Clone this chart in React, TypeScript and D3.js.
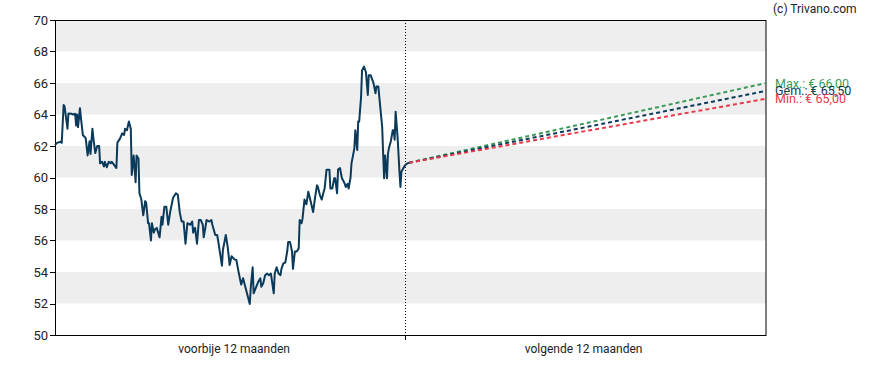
import React from "react";
import * as d3 from "d3";

const yTicks = [50, 52, 54, 56, 58, 60, 62, 64, 66, 68, 70];
const periodLabels = ["voorbije 12 maanden", "volgende 12 maanden"];
const domainDays = [-365, 376];

const pastDays = [
  -365, -363, -359, -358, -356, -355, -352, -351, -348, -346,
  -344, -343, -342, -341, -339, -338, -336, -333, -331, -329,
  -328, -326, -325, -323, -321, -319, -318, -316, -314, -313,
  -311, -309, -307, -306, -304, -301, -300, -297, -295, -293,
  -292, -290, -288, -286, -285, -283, -281, -280, -278, -277,
  -275, -273, -271, -270, -268, -267, -265, -264, -262, -261,
  -259, -256, -254, -253, -251, -249, -247, -245, -242, -239,
  -237, -235, -233, -231, -229, -227, -224, -222, -221, -219,
  -217, -215, -213, -211, -210, -207, -204, -202, -201, -198,
  -196, -195, -191, -190, -187, -185, -183, -181, -178, -176,
  -174, -171, -169, -166, -162, -161, -159, -158, -155, -153,
  -151,
  -150, -148, -146, -144, -142, -140, -137, -136, -134, -132,
  -130, -129, -127, -125, -123, -122, -120, -118, -117, -115,
  -113, -111, -110, -108, -107, -105, -103, -101, -99, -96,
  -94, -92, -91, -89, -87, -85, -84,
  -82, -79, -78, -76, -74, -73, -71, -70, -68, -66,
  -65, -63, -62, -60, -59, -57, -56, -53, -52, -50,
  -49, -48, -46, -45, -43, -41, -39, -38, -36, -33,
  -31, -30, -28, -27, -24, -23, -22, -21, -19, -18,
  -17, -15, -13, -12, -11, -10, -8, -6, -5, -4,
  -1, 1, 4,
];

const pastPrices = [
  62.06, 62.2, 62.27, 62.2, 64.6, 64.5, 63.1, 64.07, 64.05, 64.0,
  64.05, 63.3, 64.0, 63.2, 64.4, 63.8, 62.7, 62.5, 61.4, 62.3,
  61.5, 63.1, 62.5, 61.55, 62.0, 62.0, 60.9, 61.0, 60.7, 61.0,
  60.65, 61.0, 60.9, 61.0, 60.85, 60.6, 62.2, 62.5, 62.8, 62.7,
  63.1, 63.0, 63.55, 63.1, 60.16, 61.4, 59.7, 61.4, 61.2, 59.0,
  58.6, 57.6, 58.5, 58.4, 57.1, 57.1, 56.0, 57.1, 56.5, 56.7,
  56.8, 56.2, 57.5, 57.0, 58.15, 58.15, 57.0, 57.8, 58.7, 59.0,
  58.9, 57.8, 57.2, 57.2, 55.8, 57.1, 57.0, 57.2, 56.5, 56.8,
  55.8, 57.3, 57.3, 57.0, 56.2, 57.3, 57.2, 57.3, 57.0, 56.35,
  56.35, 56.0, 54.4, 55.4, 56.35, 55.6, 54.45, 55.0, 54.8, 54.76,
  54.1, 53.2, 53.6, 52.9, 51.97, 53.0, 54.3, 52.65, 53.1, 53.4,
  53.6,
  53.07, 53.28, 53.8, 53.9, 53.8, 53.9, 52.65, 53.9, 54.3, 53.9,
  53.8, 54.2, 54.55, 54.6, 55.3, 55.9, 55.9, 55.3, 54.2, 55.3,
  55.3, 55.5, 57.3, 57.1, 57.4, 58.6, 58.3, 59.1, 58.6, 57.8,
  58.7, 59.5, 59.4, 58.9, 58.6, 59.1, 59.3,
  60.5, 60.5, 59.3, 59.3, 59.95, 59.95, 59.0, 60.5, 60.6, 59.95,
  59.85, 59.6, 59.4, 59.6, 59.3, 60.0, 60.9, 61.85, 63.0, 61.75,
  63.55, 63.55, 65.13, 66.8, 67.04, 66.7, 65.24, 66.5, 66.5, 65.98,
  65.35, 65.77, 65.77, 65.1, 63.2, 61.5, 59.95, 61.4, 59.95, 61.5,
  61.85, 62.3, 63.0, 63.0, 62.4, 64.18, 62.6, 60.37, 59.4, 60.37,
  60.7, 60.85, 60.94,
];

const forecastNames = ["Max.", "Gem.", "Min."];
const forecastTargets = [66.0, 65.5, 65.0];
const forecastColors = ["#3d9a5b", "#0b3a5a", "#e83a4a"];

const W = 888;
const H = 370;
const M = { left: 55, right: 122, top: 20, bottom: 35 };

export default function App() {
  const x = d3.scaleLinear().domain(domainDays).range([M.left, W - M.right]);
  const y = d3.scaleLinear().domain([50, 70]).range([H - M.bottom, M.top]);

  const past = pastDays.map((d, i) => [d, pastPrices[i]] as [number, number]);
  const line = d3
    .line<[number, number]>()
    .x((d) => x(d[0]))
    .y((d) => y(d[1]));

  const lastDay = pastDays[pastDays.length - 1];
  const lastPrice = pastPrices[pastPrices.length - 1];

  const bands: [number, number][] = [];
  for (let i = yTicks.length - 1; i > 0; i -= 2) {
    bands.push([yTicks[i - 1], yTicks[i]]);
  }

  const fmt = (v: number) => "€ " + v.toFixed(2).replace(".", ",");
  const font = "Roboto, 'Liberation Sans', Arial, sans-serif";

  return (
    <div style={{ position: "absolute", left: 0, top: 0 }}>
      <svg width={W} height={H} style={{ display: "block", fontFamily: font }}>
        <rect x={0} y={0} width={W} height={H} fill="#ffffff" />
        {bands.map((b, i) => (
          <rect
            key={i}
            x={M.left}
            y={y(b[1])}
            width={x(domainDays[1]) - M.left}
            height={y(b[0]) - y(b[1])}
            fill="#eeeeee"
          />
        ))}
        <rect
          x={M.left + 0.5}
          y={M.top + 0.5}
          width={x(domainDays[1]) - M.left - 0.5}
          height={y(50) - M.top}
          fill="none"
          stroke="#000"
          strokeWidth={1}
        />
        {yTicks.map((t) => (
          <g key={t}>
            <line
              x1={M.left - 5}
              x2={M.left}
              y1={Math.round(y(t)) + 0.5}
              y2={Math.round(y(t)) + 0.5}
              stroke="#000"
            />
            <text
              x={M.left - 7}
              y={y(t)}
              dy="0.36em"
              textAnchor="end"
              fontSize={13}
              fill="#222"
            >
              {t}
            </text>
          </g>
        ))}
        <line
          x1={Math.round(x(0)) + 0.5}
          x2={Math.round(x(0)) + 0.5}
          y1={M.top}
          y2={y(50)}
          stroke="#000"
          strokeDasharray="1,2"
        />
        <line
          x1={Math.round(x(0)) + 0.5}
          x2={Math.round(x(0)) + 0.5}
          y1={y(50)}
          y2={y(50) + 5}
          stroke="#000"
        />
        <text
          x={(x(domainDays[0]) + x(0)) / 2 + 4}
          y={353}
          textAnchor="middle"
          fontSize={12}
          fill="#222"
        >
          {periodLabels[0]}
        </text>
        <text
          x={(x(0) + x(domainDays[1])) / 2 - 2}
          y={353}
          textAnchor="middle"
          fontSize={12}
          fill="#222"
        >
          {periodLabels[1]}
        </text>
        {forecastTargets.map((v, i) => (
          <line
            key={"f" + i}
            x1={x(lastDay)}
            y1={y(lastPrice)}
            x2={x(domainDays[1])}
            y2={y(v)}
            stroke={forecastColors[i]}
            strokeWidth={2}
            strokeDasharray="4,3"
          />
        ))}
        <path
          d={line(past) || ""}
          fill="none"
          stroke="#0b3a5a"
          strokeWidth={2}
          strokeLinejoin="round"
        />
        {forecastTargets.map((v, i) => (
          <text
            key={"l" + i}
            x={x(domainDays[1]) + 9}
            y={y(v)}
            dy="0.36em"
            fontSize={12.5}
            fill={forecastColors[i]}
          >
            {forecastNames[i] + ": " + fmt(v)}
          </text>
        ))}
        <text x={773} y={13} fontSize={12} fill="#222">
          (c) Trivano.com
        </text>
      </svg>
    </div>
  );
}
